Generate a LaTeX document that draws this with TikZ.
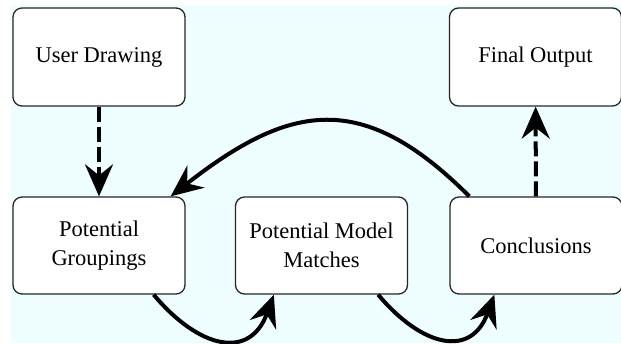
\documentclass[tikz,border=0pt]{standalone}
\usepackage{fontspec}
\setmainfont{Liberation Serif}
\usetikzlibrary{arrows.meta}
\definecolor{bgcyan}{RGB}{238,254,255}

\begin{document}
\begin{tikzpicture}[x=1pt,y=-1pt,
  stage/.style={draw=black!85, fill=white, line width=1.3pt, rounded corners=9pt,
    minimum width=172pt, minimum height=98pt, align=center,
    font=\fontsize{22.5}{28.5}\selectfont},
  flow/.style={line width=4pt, -{Stealth[length=32pt,width=28pt,inset=11pt]}},
  flowdash/.style={flow, dash pattern=on 15pt off 5pt}]
\useasboundingbox (0,0) rectangle (621,343);
\fill[bgcyan] (11,5) rectangle (621,343);
\node[stage] (ud) at (99,57) {User Drawing};
\node[stage] (fo) at (535.5,57) {Final Output};
\node[stage, minimum height=97pt] (pg) at (99,245.5) {Potential\\Groupings};
\node[stage, minimum height=97pt] (pm) at (321.5,245.5) {Potential Model\\Matches};
\node[stage, minimum height=97pt] (cc) at (536,245.5) {Conclusions};
\draw[flowdash] (ud) -- (pg);
\draw[flowdash] (cc) -- (fo);
\draw[flow] ([xshift=20pt]cc.north west) to[out=135, in=38, looseness=1.3] ([xshift=-15pt]pg.north east);
\draw[flow] ([xshift=-32pt]pg.south east) to[out=-50, in=-110, looseness=1.5] ([xshift=39pt]pm.south west);
\draw[flow] ([xshift=-30pt]pm.south east) to[out=-50, in=-110, looseness=1.5] ([xshift=45pt]cc.south west);
\end{tikzpicture}
\end{document}
